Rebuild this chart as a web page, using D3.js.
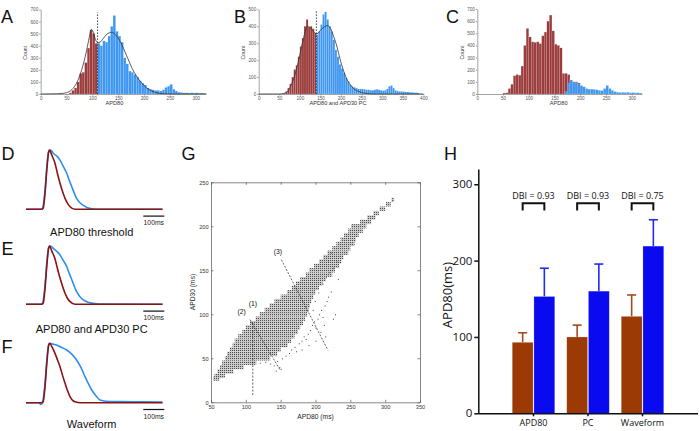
<!DOCTYPE html>
<html><head><meta charset="utf-8">
<script src="https://cdn.jsdelivr.net/npm/d3@7"></script>
<style>body{margin:0;background:#fff}svg{display:block}</style>
</head><body>
<svg id="c" width="700" height="431"></svg>
<script>
// ---------------- DATA ----------------
const BIN = 5;
// Panel A: APD80 threshold histogram [binStart, count]
const histA_red = [[55,10],[60,30],[65,50],[70,100],[75,170],[80,180],[85,260],[90,380],[95,530],[100,500],[105,420]];
const histA_blue = [[110,420],[115,400],[120,440],[125,430],[130,480],[135,560],[140,650],[145,520],[150,480],[155,430],[160,300],[165,250],[170,190],[175,180],[180,160],[185,140],[190,110],[195,90],[200,75],[205,50],[210,40],[215,35],[220,30],[225,30],[230,25],[235,35],[240,55],[245,65],[250,80],[255,40],[260,25],[265,15],[270,12],[275,10],[280,10],[285,8],[290,10],[295,8],[300,10],[305,6],[310,8],[315,4]];
const curveA = [[0,0],[30,2],[45,6],[50,11],[60,35],[70,95],[76,157],[82,240],[89,365],[94,470],[98,536],[102,510],[106,450],[110,425],[115,430],[120,455],[128,495],[137,511],[145,490],[155,425],[166,320],[177,212],[185,150],[196,88],[205,50],[215,25],[228,6],[245,1],[260,0],[320,0]];
const cutA = 110;
// Panel B: APD80 and APD30 PC
const histB_red = [[60,5],[65,15],[70,35],[75,60],[80,100],[85,145],[90,170],[95,220],[100,280],[105,330],[110,400],[115,440],[120,395],[125,400],[130,385],[135,360]];
const histB_blue = [[140,350],[145,370],[150,410],[155,470],[160,485],[165,440],[170,400],[175,370],[180,320],[185,260],[190,220],[195,175],[200,150],[205,125],[210,95],[215,75],[220,55],[225,45],[230,40],[235,35],[240,30],[245,30],[250,30],[255,28],[260,25],[265,25],[270,22],[275,22],[280,25],[285,28],[290,25],[295,22],[300,20],[305,22],[310,30],[315,45],[320,50],[325,35],[330,22],[335,18],[340,15],[345,15],[350,14],[355,12],[360,12],[365,10],[370,10],[375,8],[380,8],[385,6]];
const curveB = [[0,0],[50,0],[60,3],[70,15],[76,39],[85,90],[96,188],[105,290],[113,368],[118,398],[124,395],[133,368],[141,355],[153,384],[167,404],[175,385],[181,347],[190,280],[197,211],[205,145],[213,93],[222,55],[230,33],[246,12],[262,3],[280,0],[400,0]];
const cutB = 140;
// Panel C: waveform clustering
const histC_red = [[50,8],[55,10],[60,45],[65,80],[70,150],[75,160],[80,155],[85,230],[90,400],[95,540],[100,470],[105,430],[110,425],[115,430],[120,415],[125,480],[130,510],[135,600],[140,650],[145,520],[150,410],[155,400],[160,380],[165,170],[170,170],[175,160],[180,110],[185,100],[190,100],[195,90],[200,65]];
const histC_blue = [[170,20],[175,90],[180,115],[185,95],[190,95],[195,80],[200,70],[205,60],[210,45],[215,40],[220,40],[225,38],[230,35],[235,30],[240,28],[245,45],[250,70],[255,45],[260,30],[265,20],[270,15],[275,12],[280,14],[285,12],[290,14],[295,10],[300,12],[305,10],[310,10],[315,8]];

// Panels D/E/F: mean action potentials [time ms, normalised voltage]
const apD_red = [[0,0],[75,0],[82,0.02],[90,0.25],[100,0.7],[108,0.97],[113,1],[122,0.92],[138,0.776],[150,0.6],[162,0.44],[174,0.3],[186,0.185],[198,0.1],[210,0.044],[233,0],[650,0]];
const apD_blue = [[0,0],[72,0],[80,0.03],[90,0.3],[100,0.75],[108,0.97],[114,1],[122,0.985],[130,0.944],[146,0.9],[162,0.83],[178,0.72],[194,0.607],[206,0.49],[218,0.38],[241,0.185],[257,0.11],[273,0.067],[290,0.03],[313,0.01],[337,0],[650,0]];
const apE_red = [[0,0],[75,0],[82,0.02],[90,0.25],[100,0.7],[108,0.97],[113,1],[122,0.92],[138,0.78],[150,0.61],[162,0.45],[174,0.31],[186,0.19],[198,0.1],[210,0.045],[233,0],[650,0]];
const apE_blue = [[0,0],[72,0],[80,0.03],[90,0.3],[100,0.75],[108,0.97],[114,1],[122,0.99],[130,0.96],[146,0.91],[162,0.847],[178,0.75],[194,0.647],[206,0.53],[218,0.42],[241,0.216],[257,0.13],[273,0.074],[295,0.035],[320,0.017],[345,0.005],[650,0]];
const apF_red = [[0,0],[75,0],[82,0.02],[90,0.25],[100,0.7],[108,0.97],[113,1],[125,0.93],[138,0.83],[150,0.72],[162,0.606],[174,0.46],[186,0.327],[198,0.2],[210,0.1],[222,0.04],[233,0.017],[260,0],[650,0]];
const apF_blue = [[0,0],[62,0],[70,-0.03],[78,0],[90,0.3],[100,0.75],[108,0.97],[114,1],[125,0.99],[146,0.97],[170,0.93],[194,0.887],[220,0.81],[241,0.72],[262,0.59],[281,0.438],[297,0.32],[313,0.214],[335,0.11],[352,0.045],[380,0.025],[450,0.02],[550,0.015],[650,0.01]];
const apTitles = ["APD80 threshold","APD80 and APD30 PC","Waveform"];
const scaleBarMs = 100;

// Panel G: APD80 vs APD30 scatter, dense rows [APD30, minAPD80, maxAPD80]
const scatterRows = [[27,53,62],[30,55,70],[35,59,82],[40,63,97],[45,66,115],[50,70,135],[55,73,145],[60,77,150],[65,81,160],[70,84,165],[75,89,170],[80,95,175],[85,100,178],[90,106,182],[95,114,185],[100,120,188],[105,127,190],[110,134,192],[115,141,194],[120,150,197],[125,159,200],[130,166,205],[135,172,210],[140,178,215],[145,186,224],[150,191,228],[155,198,234],[160,205,237],[165,211,240],[170,217,247],[175,224,250],[180,230,256],[185,236,258],[190,241,262],[195,247,268],[200,251,273],[205,264,280],[210,274,286],[215,283,291],[220,292,300],[225,301,308],[230,309,313]];
const scatterSparse = [[128,46],[135,44],[140,42],[145,47],[148,40],[152,50],[157,53],[162,56],[165,60],[170,63],[172,58],[176,67],[180,70],[183,75],[186,72],[189,78],[192,82],[195,88],[198,92],[200,85],[203,95],[205,100],[208,105],[210,97],[213,110],[216,115],[218,120],[222,126],[207,80],[212,88],[196,105],[199,115],[204,125],[210,135],[215,142],[220,148],[225,153],[230,160],[218,160],[222,170],[228,100],[232,140],[225,95],[214,75],[150,38],[143,36],[120,45],[200,70],[190,65],[180,60]];
const gAnnot = [["(1)",110,90,110,8,110,112],["(2)",106,94,149,37,94,103],["(3)",151,162,218,59,146,171]];

// Panel H: bar chart
const hCats = ["APD80","PC","Waveform"];
const hMeanRed = [93,100,127];
const hMeanBlue = [153,160,219];
const hSdRed = [12.5,15.5,28];
const hSdBlue = [37,35.5,34.5];
const hDBI = ["0.93","0.93","0.75"];

// ---------------- DRAW ----------------
const svg = d3.select("#c");
const SANS = '"Liberation Sans", Arial, Helvetica, sans-serif';
const RED_H = "#9b3b3b", BLUE_H = "#3d97f2";

function letter(t,x,y){
  svg.append("text").attr("x",x).attr("y",y).text(t)
    .attr("font-family",SANS).attr("font-size",18).attr("fill","#111");
}

function histPanel(o){
  const x = d3.scaleLinear().domain([0,o.xmax]).range([o.left,o.right]);
  const y = d3.scaleLinear().domain([0,o.ymax]).range([o.bottom,o.top]);
  const g = svg.append("g");
  o.layers.forEach(([data,fill])=>{
    g.append("g").selectAll("rect").data(data).join("rect")
      .attr("x",d=>x(d[0])).attr("width",d=>x(d[0]+BIN)-x(d[0]))
      .attr("y",d=>y(d[1])).attr("height",d=>y(0)-y(d[1]))
      .attr("fill",fill).attr("stroke","rgba(255,255,255,0.35)").attr("stroke-width",0.35);
  });
  if(o.curve){
    g.append("path").datum(o.curve)
      .attr("d",d3.line().x(d=>x(d[0])).y(d=>y(d[1])).curve(d3.curveMonotoneX))
      .attr("fill","none").attr("stroke","#333").attr("stroke-width",0.8);
  }
  if(o.cut!=null){
    g.append("line").attr("x1",x(o.cut)).attr("x2",x(o.cut))
      .attr("y1",y(0)).attr("y2",y(o.cutTop))
      .attr("stroke","#222").attr("stroke-width",0.8).attr("stroke-dasharray","1.6,1.4");
  }
  const ax = g.append("g").attr("transform",`translate(0,${o.bottom})`)
    .call(d3.axisBottom(x).tickValues(o.xticks).tickSize(1.5).tickSizeOuter(0).tickPadding(1.2));
  const ay = g.append("g").attr("transform",`translate(${o.left},0)`)
    .call(d3.axisLeft(y).tickValues(o.yticks).tickSize(1.5).tickSizeOuter(0).tickPadding(1));
  [ax,ay].forEach(a=>{
    a.selectAll("path,line").attr("stroke","#666").attr("stroke-width",0.6);
    a.selectAll("text").attr("font-family",SANS).attr("font-size",4.6).attr("fill","#555");
  });
  g.append("text").attr("x",(o.left+o.right)/2+o.xlabelDx).attr("y",o.bottom+10.5).attr("text-anchor","middle")
    .attr("font-family",SANS).attr("font-size",5.6).attr("fill","#333").text(o.xlabel);
  g.append("text").attr("transform",`translate(${o.left-13.5},${(o.top+o.bottom)/2+1}) rotate(-90)`)
    .attr("text-anchor","middle").attr("font-family",SANS).attr("font-size",5.2).attr("fill","#333").text("Count");
}

letter("A",1,23); letter("B",234,23); letter("C",446,23);
histPanel({left:40.7,right:206.1,top:9.5,bottom:94,xmax:320,ymax:700,
  xticks:[0,50,100,150,200,250,300],yticks:[0,100,200,300,400,500,600,700],
  layers:[[histA_red,RED_H],[histA_blue,BLUE_H]],curve:curveA,cut:cutA,cutTop:675,xlabel:"APD80",xlabelDx:-9});
histPanel({left:258.7,right:423.4,top:9.3,bottom:94,xmax:400,ymax:500,
  xticks:[0,50,100,150,200,250,300,350,400],yticks:[0,100,200,300,400,500],
  layers:[[histB_red,RED_H],[histB_blue,BLUE_H]],curve:curveB,cut:cutB,cutTop:492,xlabel:"APD80 and APD30 PC",xlabelDx:-3});
histPanel({left:477.3,right:642,top:9,bottom:94,xmax:320,ymax:700,
  xticks:[0,50,100,150,200,250,300],yticks:[0,100,200,300,400,500,600,700],
  layers:[[histC_red,RED_H],[histC_blue,BLUE_H]],curve:null,cut:null,xlabel:"APD80",xlabelDx:-1});

// D/E/F traces
const tx = d3.scaleLinear().domain([0,650]).range([26,162.5]);
const apSets = [[apD_red,apD_blue,209.3,150,"D",160],[apE_red,apE_blue,304.3,246,"E",255],[apF_red,apF_blue,402.7,343.3,"F",353]];
apSets.forEach(([r,b,base,peak,L,ly],i)=>{
  const vy = d3.scaleLinear().domain([0,1]).range([base,peak]);
  const line = d3.line().x(d=>tx(d[0])).y(d=>vy(d[1])).curve(d3.curveMonotoneX);
  svg.append("path").datum(b).attr("d",line).attr("fill","none").attr("stroke","#2e8ef0").attr("stroke-width",1.6);
  svg.append("path").datum(r).attr("d",line).attr("fill","none").attr("stroke","#8a1414").attr("stroke-width",1.6);
  const barEnd = 164.3, barStart = barEnd - (tx(scaleBarMs)-tx(0));
  svg.append("line").attr("x1",barStart).attr("x2",barEnd).attr("y1",base+6.8).attr("y2",base+6.8)
    .attr("stroke","#111").attr("stroke-width",1.2);
  svg.append("text").attr("x",(barStart+barEnd)/2).attr("y",base+16).attr("text-anchor","middle")
    .attr("font-family",SANS).attr("font-size",6.8).attr("fill","#222").text(scaleBarMs+"ms");
  svg.append("text").attr("x",91.7).attr("y",[235.5,333,428][i]).attr("text-anchor","middle")
    .attr("font-family",SANS).attr("font-size",11).attr("fill","#111").text(apTitles[i]);
  letter(L,1.5,ly);
});

// G scatter
letter("G",181.5,160);
const gx = d3.scaleLinear().domain([50,350]).range([211,420]);
const gy = d3.scaleLinear().domain([0,250]).range([402.3,182.3]);
const defs = svg.append("defs");
const pat = defs.append("pattern").attr("id","dots").attr("patternUnits","userSpaceOnUse").attr("width",2).attr("height",2);
pat.append("rect").attr("width",2).attr("height",2).attr("fill","#c9c9c9");
pat.append("rect").attr("width",1).attr("height",1).attr("fill","#4a4a4a");
const gg = svg.append("g");
gg.selectAll("rect.row").data(scatterRows).join("rect").attr("class","row")
  .attr("x",d=>gx(d[1])).attr("width",d=>gx(d[2])-gx(d[1]))
  .attr("y",d=>gy(d[0]+2.5)).attr("height",d=>gy(d[0]-2.5)-gy(d[0]+2.5))
  .attr("fill","url(#dots)");
gg.selectAll("rect.sp").data(scatterSparse).join("rect").attr("class","sp")
  .attr("x",d=>gx(d[0])).attr("y",d=>gy(d[1])).attr("width",1).attr("height",1).attr("fill","#444");
gg.selectAll("line.an").data(gAnnot).join("line").attr("class","an")
  .attr("x1",d=>gx(d[1])).attr("y1",d=>gy(d[2])).attr("x2",d=>gx(d[3])).attr("y2",d=>gy(d[4]))
  .attr("stroke","#222").attr("stroke-width",0.7).attr("stroke-dasharray","2,1.5");
gg.selectAll("text.an").data(gAnnot).join("text").attr("class","an")
  .attr("x",d=>gx(d[5])).attr("y",d=>gy(d[6])).attr("dy","0.35em").attr("text-anchor","middle")
  .attr("font-family",SANS).attr("font-size",6.8).attr("fill","#111").text(d=>d[0]);
const gTicksX=[50,100,150,200,250,300,350], gTicksY=[0,50,100,150,200,250];
const axs = [
  gg.append("g").attr("transform","translate(0,402.3)").call(d3.axisBottom(gx).tickValues(gTicksX).tickSizeInner(-2.5).tickSizeOuter(0).tickPadding(2.5)),
  gg.append("g").attr("transform","translate(0,182.3)").call(d3.axisTop(gx).tickValues(gTicksX).tickSizeInner(-2.5).tickSizeOuter(0).tickFormat("")),
  gg.append("g").attr("transform","translate(211,0)").call(d3.axisLeft(gy).tickValues(gTicksY).tickSizeInner(-2.5).tickSizeOuter(0).tickPadding(2.5)),
  gg.append("g").attr("transform","translate(420,0)").call(d3.axisRight(gy).tickValues(gTicksY).tickSizeInner(-2.5).tickSizeOuter(0).tickFormat(""))
];
axs.forEach(a=>{
  a.selectAll("path,line").attr("stroke","#555").attr("stroke-width",0.7);
  a.selectAll("text").attr("font-family",SANS).attr("font-size",5.6).attr("fill","#333");
});
gg.append("text").attr("x",315.5).attr("y",418.5).attr("text-anchor","middle")
  .attr("font-family",SANS).attr("font-size",6.7).attr("fill","#222").text("APD80 (ms)");
gg.append("text").attr("transform","translate(195,292) rotate(-90)").attr("text-anchor","middle")
  .attr("font-family",SANS).attr("font-size",6.7).attr("fill","#222").text("APD30 (ms)");

// H bars
letter("H",444,160);
const OPEN = '"Open Sans", "Liberation Sans", Arial, sans-serif';
const hx = d3.scaleBand().domain(hCats).range([506.25,669.75]).paddingInner(0.22).paddingOuter(0.11);
const hs = d3.scaleBand().domain(["r","b"]).range([0,hx.bandwidth()]).paddingInner(0.04);
const hy = d3.scaleLinear().domain([0,320]).range([413.3,169]);
const hg = svg.append("g");
const hData = hCats.map((c,i)=>[{c,s:"r",m:hMeanRed[i],sd:hSdRed[i]},{c,s:"b",m:hMeanBlue[i],sd:hSdBlue[i]}]).flat();
const hFill = {r:"#9c3a05",b:"#0a0af0"}, hErr = {r:"#a44a1c",b:"#1f2af2"};
hg.selectAll("line.err").data(hData).join("line").attr("class","err")
  .attr("x1",d=>hx(d.c)+hs(d.s)+hs.bandwidth()/2).attr("x2",d=>hx(d.c)+hs(d.s)+hs.bandwidth()/2)
  .attr("y1",d=>hy(d.m)).attr("y2",d=>hy(d.m+d.sd)).attr("stroke",d=>hErr[d.s]).attr("stroke-width",1.6);
hg.selectAll("line.cap").data(hData).join("line").attr("class","cap")
  .attr("x1",d=>hx(d.c)+hs(d.s)+hs.bandwidth()/2-4.5).attr("x2",d=>hx(d.c)+hs(d.s)+hs.bandwidth()/2+4.5)
  .attr("y1",d=>hy(d.m+d.sd)).attr("y2",d=>hy(d.m+d.sd)).attr("stroke",d=>hErr[d.s]).attr("stroke-width",1.6);
hg.selectAll("rect").data(hData).join("rect")
  .attr("x",d=>hx(d.c)+hs(d.s)).attr("width",hs.bandwidth())
  .attr("y",d=>hy(d.m)).attr("height",d=>hy(0)-hy(d.m))
  .attr("fill",d=>hFill[d.s]).attr("stroke","rgba(255,255,255,0.35)").attr("stroke-width",0.6);
// DBI brackets
hCats.forEach((c,i)=>{
  const xa = hx(c)+hs("r")+hs.bandwidth()/2, xb = hx(c)+hs("b")+hs.bandwidth()/2;
  hg.append("path").attr("d",`M${xa},210.5V203.3H${xb}V210.5`).attr("fill","none").attr("stroke","#111").attr("stroke-width",2);
  hg.append("text").attr("x",(xa+xb)/2).attr("y",198.7).attr("text-anchor","middle")
    .attr("font-family",OPEN).attr("font-size",9).attr("fill","#111").text("DBI = "+hDBI[i]);
});
const hax = hg.append("g").attr("transform","translate(0,413.3)")
  .call(d3.axisBottom(hx).tickSize(3).tickSizeOuter(0).tickPadding(3));
hax.select(".domain").attr("d","M478.3,0.5H698");
const hay = hg.append("g").attr("transform","translate(478.3,0)")
  .call(d3.axisLeft(hy).tickValues([0,100,200,300]).tickSize(4).tickSizeOuter(0).tickPadding(2));
[hax,hay].forEach(a=>{a.selectAll("path,line").attr("stroke","#111").attr("stroke-width",1.5);});
hax.selectAll("text").attr("font-family",OPEN).attr("font-size",9).attr("fill","#111");
hay.selectAll("text").attr("font-family",OPEN).attr("font-size",11.5).attr("fill","#111");
hg.append("text").attr("transform","translate(452,295) rotate(-90)").attr("text-anchor","middle")
  .attr("font-family",OPEN).attr("font-size",13).attr("fill","#111").text("APD80(ms)");
</script>
</body></html>
